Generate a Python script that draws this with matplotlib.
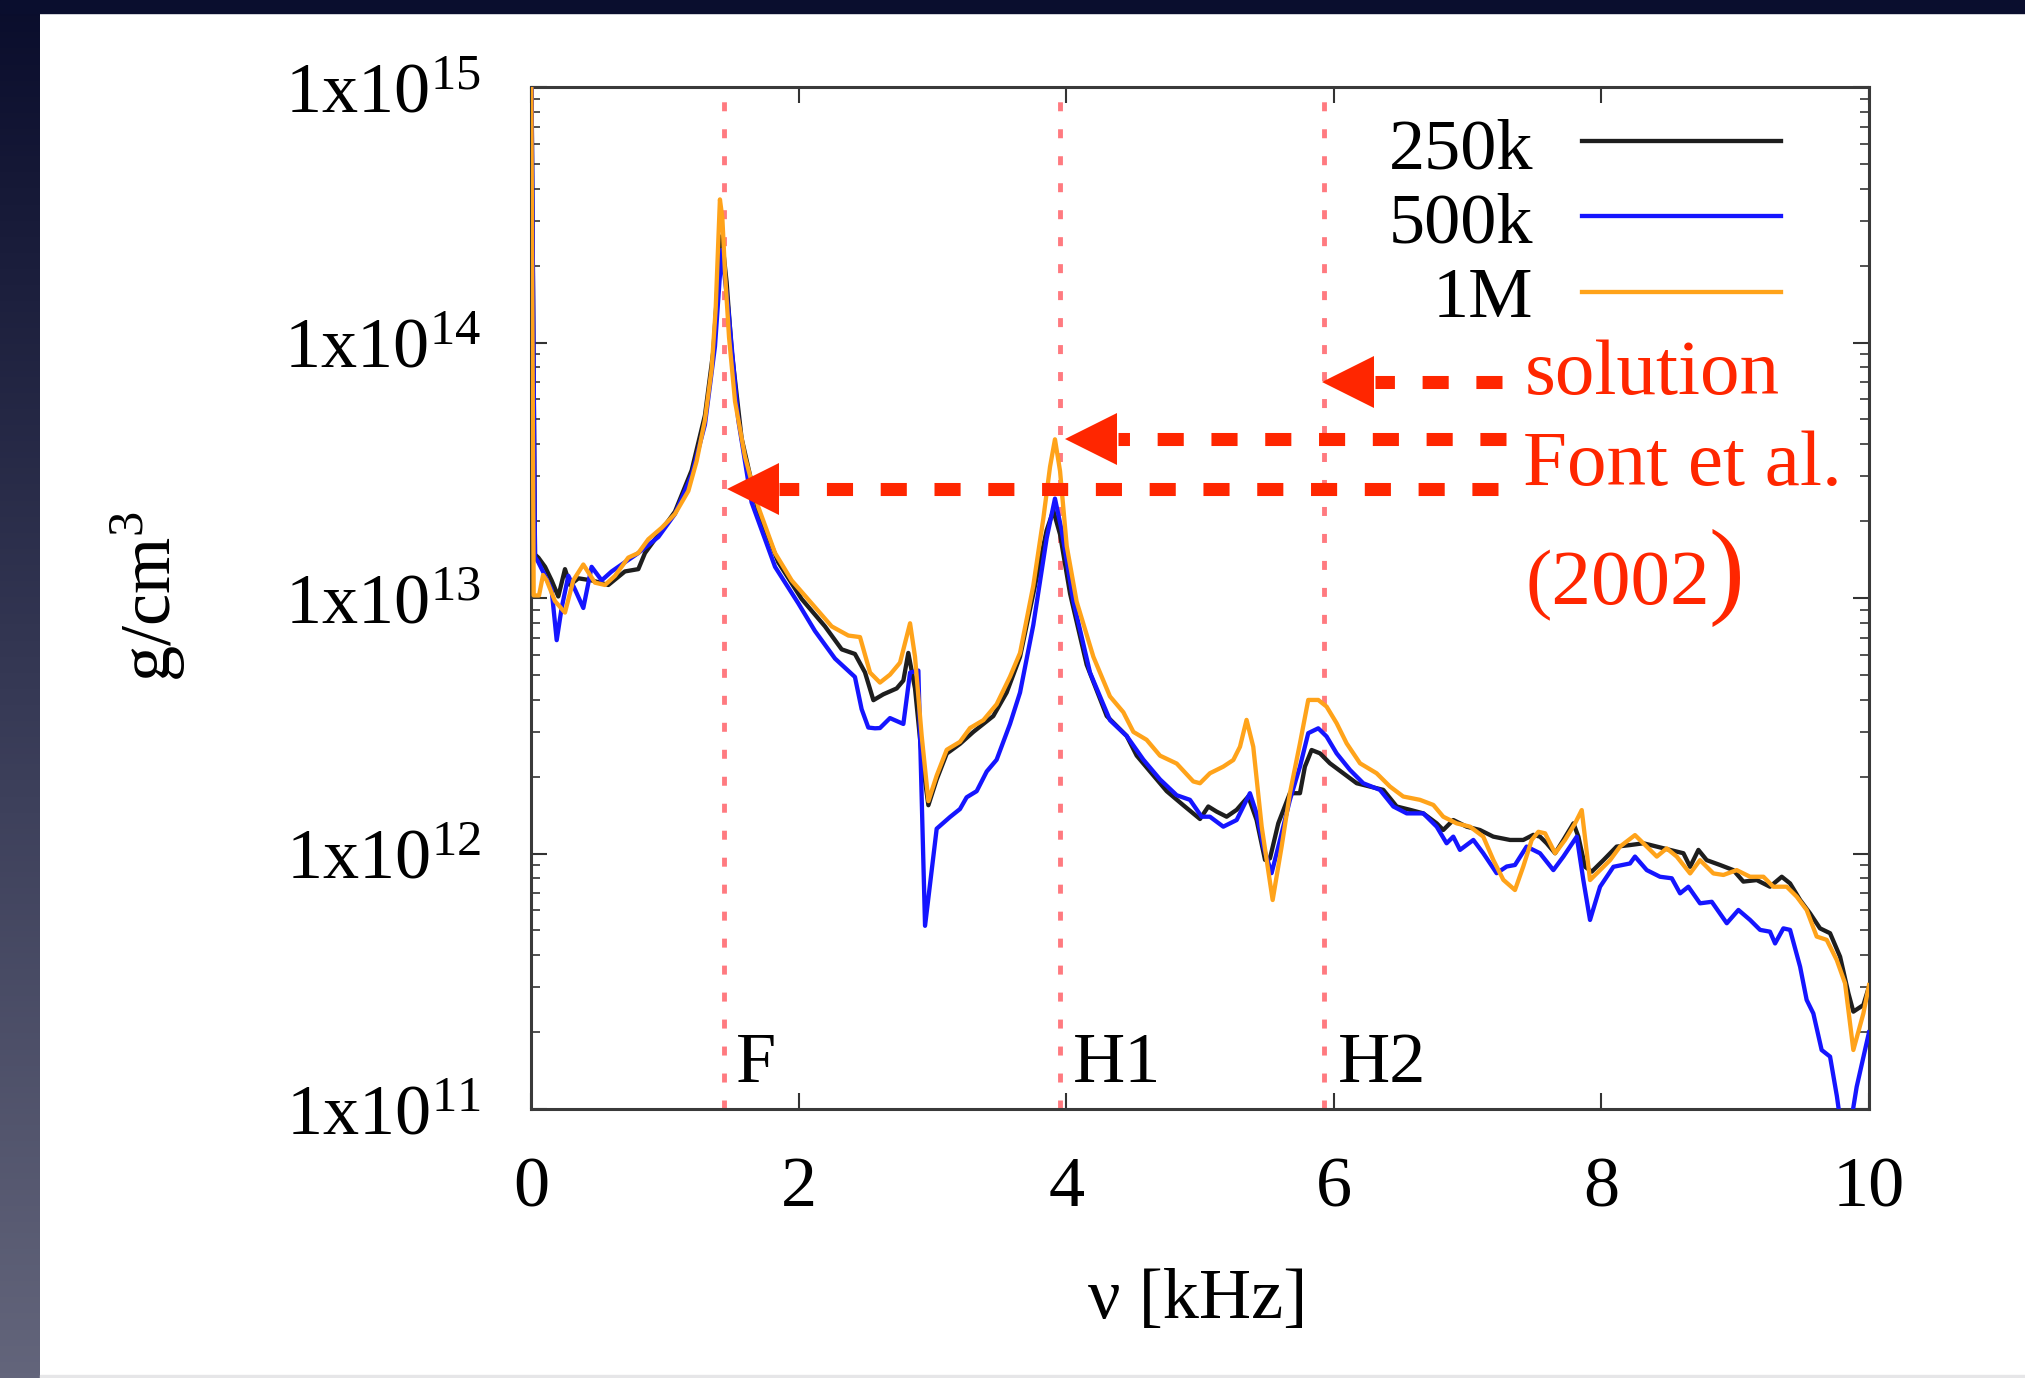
import matplotlib
matplotlib.use("Agg")
import matplotlib.pyplot as plt
import numpy as np
from matplotlib.colors import LinearSegmentedColormap
from matplotlib.lines import Line2D
from matplotlib.patches import Rectangle
from matplotlib.ticker import LogLocator, NullFormatter, NullLocator

plt.rcParams["font.family"] = ["Liberation Serif", "DejaVu Serif"]
plt.rcParams["mathtext.fontset"] = "custom"
plt.rcParams["mathtext.rm"] = "Liberation Serif"

# frequency [kHz] and log10 of the amplitude [g/cm^3]
nu_250k = [0.000, 0.030, 0.055, 0.105, 0.154, 0.204, 0.254, 0.291, 0.354, 0.453,
           0.578, 0.702, 0.802, 0.852, 0.952, 1.076, 1.201, 1.300, 1.363, 1.400,
           1.425, 1.462, 1.500, 1.574, 1.699, 1.848, 2.023, 2.197, 2.322, 2.421,
           2.496, 2.559, 2.633, 2.733, 2.783, 2.820, 2.870, 2.920, 2.970, 3.032,
           3.107, 3.206, 3.306, 3.455, 3.555, 3.655, 3.754, 3.854, 3.904, 3.954,
           4.029, 4.153, 4.303, 4.452, 4.527, 4.651, 4.751, 4.875, 5.000, 5.062,
           5.124, 5.199, 5.274, 5.361, 5.423, 5.486, 5.523, 5.585, 5.672, 5.747,
           5.784, 5.834, 5.897, 5.971, 6.071, 6.171, 6.270, 6.370, 6.470, 6.569,
           6.669, 6.769, 6.818, 6.893, 6.993, 7.092, 7.192, 7.317, 7.416, 7.491,
           7.541, 7.591, 7.654, 7.716, 7.791, 7.828, 7.878, 7.928, 8.015, 8.114,
           8.214, 8.314, 8.414, 8.513, 8.613, 8.663, 8.725, 8.787, 8.887, 8.986,
           9.061, 9.161, 9.260, 9.348, 9.410, 9.485, 9.559, 9.634, 9.709, 9.784,
           9.846, 9.883, 9.958, 10.000]
log_rho_250k = [15.30, 13.17, 13.158, 13.122, 13.069, 13.006, 13.113, 13.051, 13.077, 13.069,
                13.051, 13.104, 13.113, 13.176, 13.248, 13.338, 13.500, 13.715, 13.967, 14.272,
                14.416, 14.236, 13.967, 13.625, 13.338, 13.140, 12.996, 12.889, 12.799, 12.781,
                12.709, 12.600, 12.623, 12.646, 12.677, 12.785, 12.646, 12.383, 12.189, 12.290,
                12.391, 12.429, 12.476, 12.538, 12.630, 12.770, 13.017, 13.265, 13.342, 13.249,
                13.017, 12.739, 12.538, 12.460, 12.383, 12.306, 12.244, 12.189, 12.135, 12.184,
                12.164, 12.144, 12.171, 12.223, 12.131, 11.975, 11.981, 12.118, 12.236, 12.236,
                12.340, 12.405, 12.392, 12.353, 12.314, 12.275, 12.262, 12.249, 12.184, 12.171,
                12.157, 12.118, 12.092, 12.131, 12.105, 12.092, 12.066, 12.053, 12.053, 12.073,
                12.066, 12.040, 12.001, 12.053, 12.118, 12.066, 11.948, 11.929, 11.974, 12.027,
                12.033, 12.040, 12.027, 12.014, 12.001, 11.948, 12.014, 11.974, 11.955, 11.935,
                11.890, 11.896, 11.870, 11.909, 11.883, 11.818, 11.766, 11.707, 11.688, 11.596,
                11.453, 11.381, 11.407, 11.479]

nu_500k = [0.000, 0.030, 0.055, 0.105, 0.154, 0.192, 0.229, 0.279, 0.329, 0.391,
           0.453, 0.528, 0.603, 0.702, 0.802, 0.952, 1.076, 1.201, 1.300, 1.375,
           1.425, 1.475, 1.549, 1.649, 1.824, 1.998, 2.122, 2.272, 2.421, 2.471,
           2.521, 2.571, 2.608, 2.683, 2.783, 2.833, 2.895, 2.945, 3.032, 3.132,
           3.206, 3.256, 3.331, 3.406, 3.480, 3.580, 3.655, 3.754, 3.854, 3.916,
           3.966, 4.054, 4.178, 4.327, 4.452, 4.577, 4.701, 4.826, 4.925, 5.012,
           5.074, 5.174, 5.274, 5.373, 5.423, 5.473, 5.535, 5.598, 5.672, 5.747,
           5.809, 5.884, 5.946, 6.021, 6.121, 6.220, 6.345, 6.445, 6.545, 6.669,
           6.769, 6.843, 6.893, 6.943, 7.043, 7.117, 7.217, 7.292, 7.354, 7.441,
           7.541, 7.641, 7.716, 7.816, 7.865, 7.915, 7.990, 8.090, 8.214, 8.251,
           8.339, 8.438, 8.526, 8.588, 8.650, 8.737, 8.825, 8.937, 9.024, 9.111,
           9.186, 9.260, 9.298, 9.360, 9.410, 9.485, 9.534, 9.584, 9.646, 9.709,
           9.760, 9.800, 9.850, 9.908, 10.000]
log_rho_500k = [15.30, 13.16, 13.140, 13.087, 13.033, 12.835, 12.961, 13.087, 13.033, 12.961,
                13.122, 13.069, 13.104, 13.140, 13.176, 13.239, 13.329, 13.482, 13.679, 13.985,
                14.362, 14.129, 13.697, 13.374, 13.122, 12.979, 12.871, 12.763, 12.691, 12.565,
                12.493, 12.490, 12.491, 12.530, 12.507, 12.708, 12.716, 11.717, 12.097, 12.143,
                12.174, 12.220, 12.244, 12.321, 12.367, 12.507, 12.630, 12.894, 13.234, 13.389,
                13.265, 12.986, 12.708, 12.522, 12.460, 12.367, 12.290, 12.228, 12.210, 12.144,
                12.144, 12.105, 12.131, 12.236, 12.157, 12.027, 11.923, 12.053, 12.210, 12.340,
                12.471, 12.490, 12.458, 12.392, 12.327, 12.275, 12.249, 12.184, 12.157, 12.157,
                12.105, 12.040, 12.066, 12.014, 12.053, 12.001, 11.923, 11.949, 11.955, 12.027,
                12.001, 11.935, 11.988, 12.066, 11.896, 11.740, 11.870, 11.948, 11.961, 11.988,
                11.935, 11.909, 11.903, 11.844, 11.870, 11.805, 11.811, 11.727, 11.779, 11.740,
                11.701, 11.694, 11.648, 11.707, 11.701, 11.557, 11.427, 11.374, 11.231, 11.205,
                11.05, 10.90, 10.90, 11.087, 11.30]

nu_1m = [0.000, 0.020, 0.060, 0.090, 0.117, 0.179, 0.254, 0.316, 0.391, 0.478,
         0.553, 0.628, 0.727, 0.802, 0.877, 0.977, 1.076, 1.176, 1.238, 1.300,
         1.350, 1.380, 1.400, 1.412, 1.430, 1.450, 1.480, 1.525, 1.599, 1.699,
         1.824, 1.948, 2.098, 2.247, 2.372, 2.459, 2.534, 2.608, 2.683, 2.758,
         2.833, 2.870, 2.920, 2.970, 3.032, 3.107, 3.206, 3.281, 3.381, 3.480,
         3.580, 3.655, 3.754, 3.829, 3.879, 3.916, 3.954, 4.004, 4.078, 4.203,
         4.327, 4.427, 4.502, 4.601, 4.701, 4.826, 4.950, 5.000, 5.074, 5.174,
         5.249, 5.299, 5.348, 5.398, 5.461, 5.543, 5.610, 5.672, 5.747, 5.809,
         5.884, 5.946, 6.021, 6.096, 6.196, 6.320, 6.420, 6.519, 6.644, 6.744,
         6.818, 6.918, 7.018, 7.117, 7.192, 7.267, 7.354, 7.416, 7.479, 7.529,
         7.579, 7.654, 7.728, 7.803, 7.853, 7.915, 7.990, 8.065, 8.139, 8.251,
         8.339, 8.414, 8.488, 8.563, 8.663, 8.737, 8.837, 8.912, 9.011, 9.111,
         9.211, 9.285, 9.385, 9.460, 9.534, 9.609, 9.684, 9.759, 9.821, 9.883,
         9.958, 10.000]
log_rho_1m = [15.30, 13.01, 13.01, 13.09, 13.069, 12.988, 12.943, 13.069, 13.131, 13.060,
              13.051, 13.087, 13.158, 13.176, 13.230, 13.275, 13.329, 13.419, 13.536, 13.697,
              13.895, 14.129, 14.398, 14.560, 14.488, 14.273, 14.021, 13.769, 13.554, 13.356,
              13.176, 13.069, 12.979, 12.889, 12.853, 12.847, 12.708, 12.669, 12.700, 12.747,
              12.901, 12.770, 12.460, 12.205, 12.305, 12.406, 12.437, 12.491, 12.522, 12.584,
              12.692, 12.785, 13.048, 13.311, 13.513, 13.621, 13.497, 13.203, 12.986, 12.770,
              12.615, 12.553, 12.476, 12.445, 12.383, 12.352, 12.282, 12.275, 12.314, 12.340,
              12.366, 12.418, 12.523, 12.418, 12.105, 11.818, 12.027, 12.236, 12.431, 12.601,
              12.601, 12.575, 12.510, 12.431, 12.353, 12.314, 12.262, 12.223, 12.210, 12.190,
              12.144, 12.118, 12.105, 12.066, 11.975, 11.897, 11.857, 11.949, 12.053, 12.085,
              12.079, 12.001, 12.053, 12.118, 12.170, 11.896, 11.935, 11.974, 12.027, 12.072,
              12.027, 11.988, 12.020, 11.988, 11.922, 11.974, 11.922, 11.916, 11.935, 11.909,
              11.909, 11.870, 11.870, 11.831, 11.779, 11.675, 11.662, 11.583, 11.492, 11.231,
              11.374, 11.485]

series_labels = ["250k", "500k", "1M"]
series_colors = ["#1e1e1e", "#1515ff", "#ffa31a"]

# oscillation modes marked by vertical dotted lines
mode_names = ["F", "H1", "H2"]
mode_nu = [1.44, 3.95, 5.93]
mode_label_nu = [1.53, 4.05, 6.03]
mode_label_rho = 1.28e11

# reference arrows (tip frequency, level, tail frequency)
arrow_tip_nu = [5.91, 3.99, 1.46]
arrow_rho = [7.0e13, 4.2e13, 2.67e13]
arrow_tail_nu = [7.26, 7.29, 7.23]

x_ticks = [0, 2, 4, 6, 8, 10]
y_ticks = [1e11, 1e12, 1e13, 1e14, 1e15]
y_tick_labels = [r"$\mathregular{1x10^{11}}$", r"$\mathregular{1x10^{12}}$",
                 r"$\mathregular{1x10^{13}}$", r"$\mathregular{1x10^{14}}$",
                 r"$\mathregular{1x10^{15}}$"]

RED = "#ff2600"
W, H = 2025, 1378

fig = plt.figure(figsize=(W / 100, H / 100), dpi=100)
fig.patch.set_facecolor("white")

# slide frame: dark strip on the left and top
bg = fig.add_axes([0, 0, 1, 1], zorder=-1)
slide = LinearSegmentedColormap.from_list("slide", ["#0a0d2c", "#363955", "#63657b"])
bg.imshow(np.linspace(0, 1, 256)[:, None], cmap=slide, extent=(0, 40, H, 0), aspect="auto")
bg.add_patch(Rectangle((0, 0), W, 13, color="#0a0e2e"))
bg.add_patch(Rectangle((40, 1375), W, 3, color="#e6e6e8"))
bg.set_xlim(0, W)
bg.set_ylim(H, 0)
bg.axis("off")

ax = fig.add_axes([531 / W, (H - 1109) / H, 1338 / W, 1022 / H])
ax.set_yscale("log")

for nu in mode_nu:
    ax.axvline(nu, color="#ff7a80", lw=3.5, dashes=(1.85, 3.7), zorder=1)

for nu, log_rho, color in zip([nu_250k, nu_500k, nu_1m],
                              [log_rho_250k, log_rho_500k, log_rho_1m], series_colors):
    ax.plot(nu, 10.0 ** np.array(log_rho), color=color, lw=3.1, zorder=3)

ax.set_xlim(0, 10)
ax.set_ylim(1e11, 1e15)
ax.set_xticks(x_ticks)
ax.xaxis.set_minor_locator(NullLocator())
ax.set_yticks(y_ticks, labels=y_tick_labels)
ax.yaxis.set_minor_locator(LogLocator(base=10, subs=range(2, 10)))
ax.yaxis.set_minor_formatter(NullFormatter())

ax.tick_params(which="both", direction="in", top=True, right=True, color="#333333")
ax.tick_params(which="major", length=11.5, width=1.5, labelsize=52)
ax.tick_params(which="minor", length=6.5, width=1.2)
ax.tick_params(axis="x", pad=34)
ax.tick_params(axis="y", pad=36)
for s in ax.spines.values():
    s.set_linewidth(2.2)
    s.set_color("#3a3a3a")

ax.set_xlabel("ν [kHz]", fontsize=52, va="center")
ax.xaxis.set_label_coords(0.4985, -0.187)
ax.set_ylabel("g/cm$^3$", fontsize=52, va="center")
ax.yaxis.set_label_coords(-0.286, 0.501)

for name, nu in zip(mode_names, mode_label_nu):
    ax.text(nu, mode_label_rho, name, fontsize=52, ha="left", va="baseline")

# key, gnuplot style: label right-aligned, sample line to its right
key_text_y = [0.9207, 0.8474, 0.775]
key_line_y = [0.9472, 0.8738, 0.7994]
for label, color, ty, ly in zip(series_labels, series_colors, key_text_y, key_line_y):
    ax.text(0.7489, ty, label, transform=ax.transAxes, fontsize=52,
            ha="right", va="baseline")
    ax.add_line(Line2D([0.7855, 0.9342], [ly, ly], transform=ax.transAxes,
                       color=color, lw=3.1))

# red annotation
ax.text(0.7429, 0.6996, "solution", transform=ax.transAxes, color=RED,
        fontsize=57, ha="left", va="baseline", clip_on=False)
ax.text(0.7414, 0.6106, "Font et al.", transform=ax.transAxes, color=RED,
        fontsize=57, ha="left", va="baseline", clip_on=False)
ax.text(0.7429, 0.4941, "(2002", transform=ax.transAxes, color=RED,
        fontsize=57, ha="left", va="baseline", clip_on=False)
ax.text(0.8804, 0.4941, ")", transform=ax.transAxes, color=RED,
        fontsize=77, ha="left", va="baseline", clip_on=False)

head_len = 0.396  # kHz, length of the arrow head
for tip, rho, tail in zip(arrow_tip_nu, arrow_rho, arrow_tail_nu):
    ax.plot([tail, tip + head_len], [rho, rho], color=RED, lw=9.4,
            dashes=(2.0, 2.12), zorder=5)
    ax.plot([tip + head_len / 2], [rho], marker="<", ms=38, color=RED, mew=0, zorder=5)

fig.savefig("out.png", dpi=100)
